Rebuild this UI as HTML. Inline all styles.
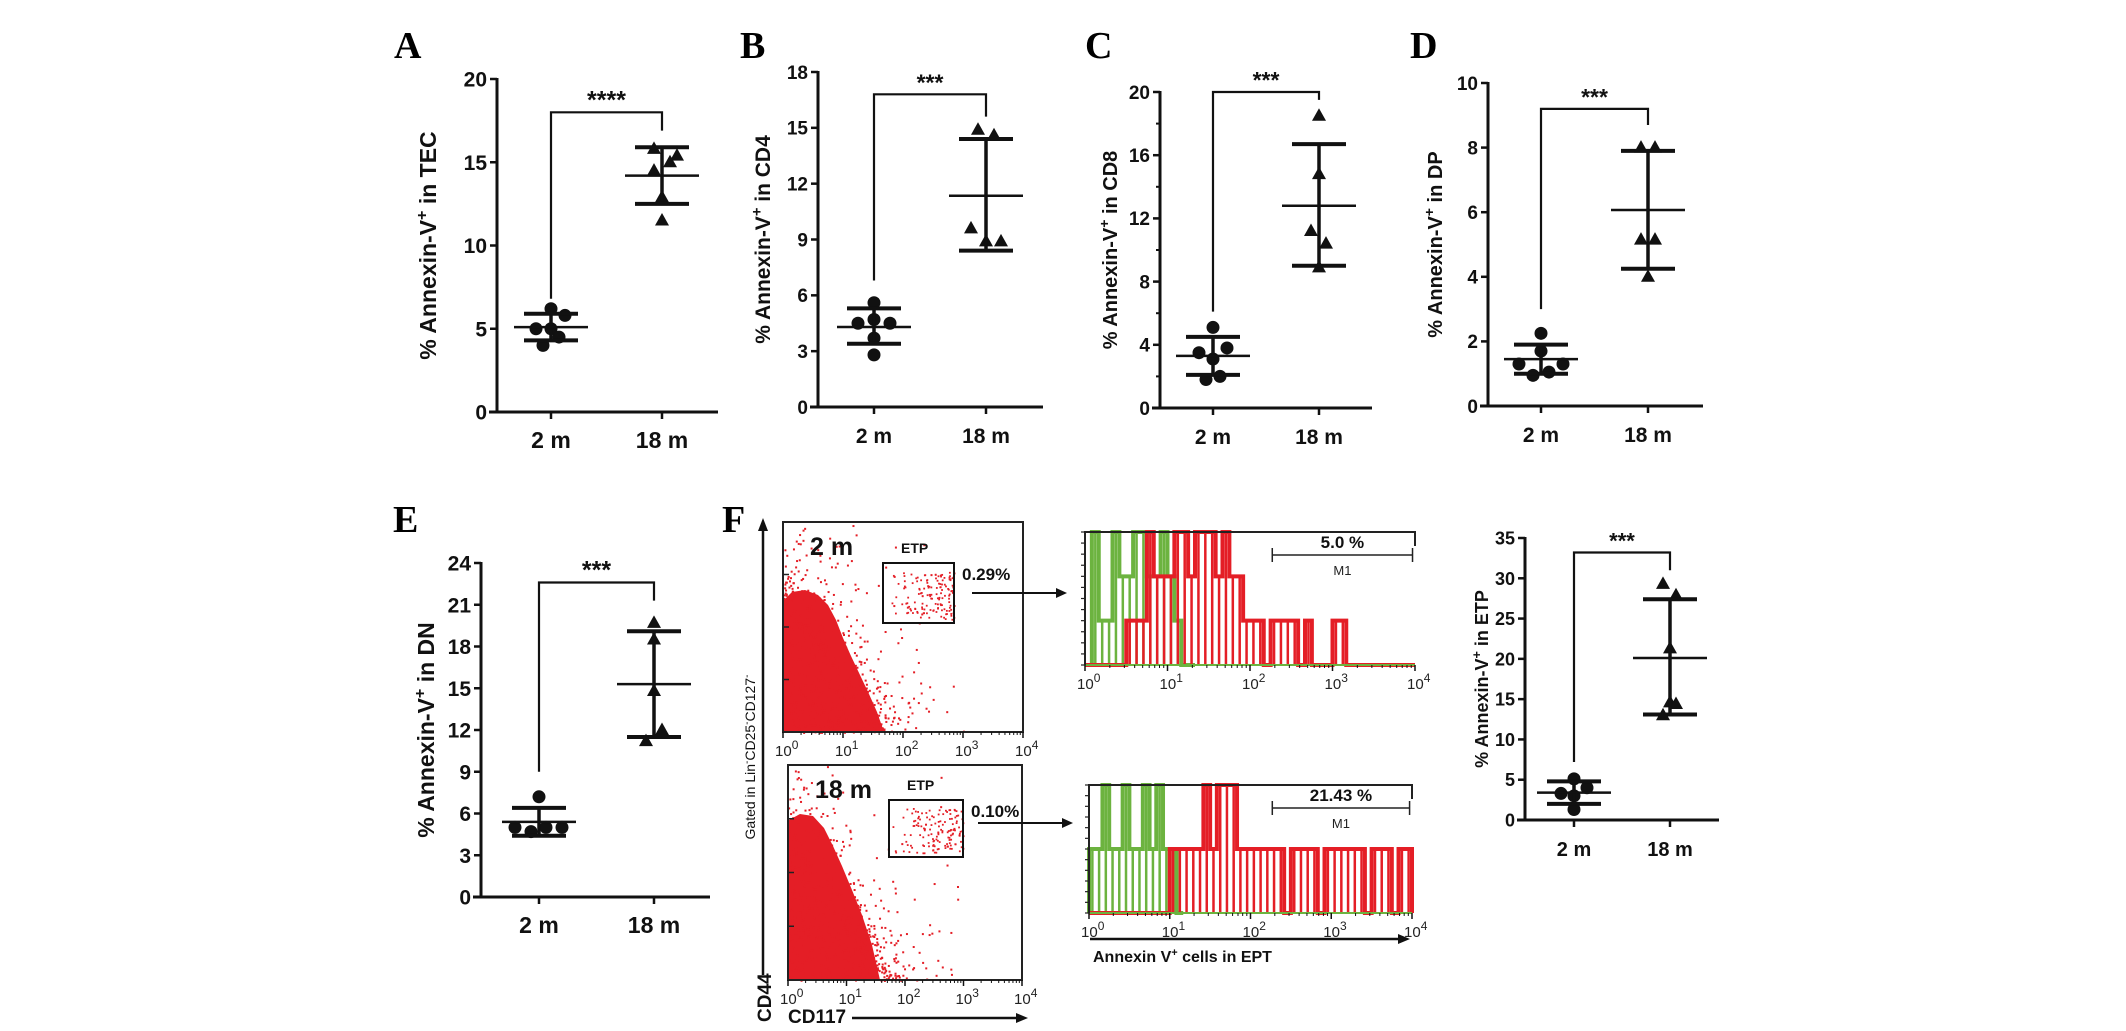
<!DOCTYPE html>
<html><head><meta charset="utf-8"><style>
html,body{margin:0;padding:0;background:#fff;}
svg{display:block;}
text{font-family:"Liberation Sans",Arial,sans-serif;}
.lbl{font-family:"Liberation Serif","Times New Roman",serif;font-weight:bold;font-size:38px;}
</style></head><body>
<svg id="fig" width="2126" height="1031" viewBox="0 0 2126 1031" xmlns="http://www.w3.org/2000/svg">
<rect width="2126" height="1031" fill="#fff"/>
</svg>
<script>
// ---------- dot-plot data ----------
const categories = ['2 m', '18 m'];
const A_2m = [6.2, 5.8, 5.0, 5.0, 4.5, 4.0];
const A_18m = [15.8, 15.4, 15.0, 14.5, 12.9, 11.5];
const A_stats = [[5.1, 4.3, 5.9], [14.2, 12.5, 15.9]];
const A_ticks = [0, 5, 10, 15, 20];
const A_sig = [18.0, 6.8, 16.9];
const B_2m = [5.6, 4.7, 4.5, 4.5, 3.7, 2.8];
const B_18m = [14.9, 14.6, 9.6, 8.9, 8.9];
const B_stats = [[4.3, 3.4, 5.3], [11.35, 8.4, 14.4]];
const B_ticks = [0, 3, 6, 9, 12, 15, 18];
const B_sig = [16.8, 6.8, 15.6];
const C_2m = [5.1, 3.8, 3.5, 3.1, 2.0, 1.8];
const C_18m = [18.5, 14.8, 11.2, 10.4, 8.9];
const C_stats = [[3.3, 2.1, 4.5], [12.8, 9.0, 16.7]];
const C_ticks = [0, 4, 8, 12, 16, 20];
const C_sig = [20.0, 6.1, 19.5];
const D_2m = [2.25, 1.7, 1.3, 1.3, 1.05, 0.95];
const D_18m = [8.0, 8.0, 5.15, 5.15, 4.0];
const D_stats = [[1.45, 1.0, 1.9], [6.07, 4.25, 7.9]];
const D_ticks = [0, 2, 4, 6, 8, 10];
const D_sig = [9.2, 3.0, 8.7];
const E_2m = [7.2, 5.0, 4.7, 5.0, 5.0];
const E_18m = [19.7, 18.5, 14.8, 12.0, 11.2];
const E_stats = [[5.4, 4.4, 6.4], [15.3, 11.5, 19.1]];
const E_ticks = [0, 3, 6, 9, 12, 15, 18, 21, 24];
const E_sig = [22.6, 9.0, 21.3];
const ETP_2m = [5.1, 4.0, 3.3, 3.0, 1.3];
const ETP_18m = [29.3, 27.9, 21.3, 14.6, 14.4, 13.0];
const ETP_stats = [[3.4, 2.0, 4.8], [20.1, 13.1, 27.4]];
const ETP_ticks = [0, 5, 10, 15, 20, 25, 30, 35];
const ETP_sig = [33.2, 7.2, 31.0];
// ---------- histogram data (counts per log bin, 12 bins/decade) ----------
const hist2m_green = [0,3,1,1,3,2,2,3,3,2,2,3,2,1,0,0];
const hist2m_red = [0,0,0,0,0,0,1,1,1,3,2,2,2,3,3,2,3,3,3,2,3,2,2,1,1,1,0,1,1,1,1,0,1,0,0,0,1,1,0,0,0,0,0,0,0,0,0,0];
const hist18m_green = [1,1,2,1,1,2,1,1,2,1,2,1,1,0];
const hist18m_red = [0,0,0,0,0,0,0,0,0,0,0,0,1,1,1,1,1,2,1,2,2,2,1,1,1,1,1,1,1,0,1,1,1,1,0,1,1,1,1,1,1,0,1,1,1,0,1,1];
const gatePct = ['0.29%', '0.10%'];
const m1Pct = ['5.0 %', '21.43 %'];

const NS = 'http://www.w3.org/2000/svg';
const svg = document.getElementById('fig');
function mk(parent, tag, attrs, name, txt) {
  const e = document.createElementNS(NS, tag);
  for (const k in attrs) e.setAttribute(k, attrs[k]);
  
  
  if (txt !== undefined) e.textContent = txt;
  parent.appendChild(e);
  return e;
}

function dotPanel(p) {
  const g = mk(svg, 'g', {}, 'panel-' + p.id);
  const yS = v => p.y0 - (v / p.max) * (p.y0 - p.yTop);
  const xS = i => p.cx[i];
  if (p.letter) mk(g, 'text', {x: p.lx, y: p.ly, class: 'lbl'}, 'panel-label', p.letter);
  mk(g, 'line', {x1: p.x0, y1: p.yTop - 1, x2: p.x0, y2: p.y0 + 1.5, stroke: '#111', 'stroke-width': 3}, 'y-axis');
  mk(g, 'line', {x1: p.x0 - 8, y1: p.y0, x2: p.xEnd, y2: p.y0, stroke: '#111', 'stroke-width': 3}, 'x-axis');
  p.ticks.forEach(t => {
    mk(g, 'line', {x1: p.x0 - 7, y1: yS(t), x2: p.x0, y2: yS(t), stroke: '#111', 'stroke-width': 2.5}, 'y-tick');
    mk(g, 'text', {x: p.x0 - 10, y: yS(t) + p.fs * 0.36, 'text-anchor': 'end', 'font-size': p.fs, 'font-weight': 'bold', fill: '#111'}, 'y-tick-label', String(t));
  });
  if (p.minor) for (let i = 0; i < p.ticks.length - 1; i++) {
    const m = (p.ticks[i] + p.ticks[i + 1]) / 2;
    mk(g, 'line', {x1: p.x0 - 4, y1: yS(m), x2: p.x0, y2: yS(m), stroke: '#111', 'stroke-width': 2}, 'y-minor-tick');
  }
  categories.forEach((c, i) => {
    mk(g, 'line', {x1: xS(i), y1: p.y0, x2: xS(i), y2: p.y0 + 7, stroke: '#111', 'stroke-width': 2.5}, 'x-tick');
    mk(g, 'text', {x: xS(i), y: p.y0 + 36, 'text-anchor': 'middle', 'font-size': p.fs + 2, 'font-weight': 'bold', fill: '#111'}, 'x-tick-label', c);
  });
  const tcy = (p.yTop + p.y0) / 2;
  const tt = mk(g, 'text', {x: p.tx, y: tcy, transform: `rotate(-90 ${p.tx} ${tcy})`, 'text-anchor': 'middle', 'font-size': p.tfs, 'font-weight': 'bold', fill: '#111'}, 'y-axis-title');
  tt.textContent = '% Annexin-V';
  mk(tt, 'tspan', {dy: -p.tfs * 0.4, 'font-size': p.tfs * 0.7}, 'superscript', '+');
  mk(tt, 'tspan', {dy: p.tfs * 0.4}, 'title-rest', ' in ' + p.cell);
  const sy = yS(p.sig[0]);
  mk(g, 'path', {d: `M${xS(0)},${yS(p.sig[1])} V${sy} H${xS(1)} V${yS(p.sig[2])}`, fill: 'none', stroke: '#111', 'stroke-width': 2.2}, 'significance-bracket');
  mk(g, 'text', {x: (xS(0) + xS(1)) / 2, y: sy - 4, 'text-anchor': 'middle', 'font-size': p.fs + 4, 'font-weight': 'bold', fill: '#111'}, 'significance-stars', p.stars);
  [p.d2, p.d18].forEach((arr, gi) => {
    arr.forEach((v, k) => {
      const x = xS(gi) + p.off[gi][k], y = yS(v);
      if (gi === 0) mk(g, 'circle', {cx: x, cy: y, r: 6.5, fill: '#111'}, 'point-2m');
      else mk(g, 'path', {d: `M${x},${y - 7.5} L${x + 7},${y + 5} L${x - 7},${y + 5} Z`, fill: '#111'}, 'point-18m');
    });
  });
  p.stats.forEach((s, i) => {
    const x = xS(i);
    mk(g, 'line', {x1: x, y1: yS(s[1]), x2: x, y2: yS(s[2]), stroke: '#111', 'stroke-width': 3.5}, 'sd-bar');
    mk(g, 'line', {x1: x - 27, y1: yS(s[1]), x2: x + 27, y2: yS(s[1]), stroke: '#111', 'stroke-width': 4}, 'sd-cap-low');
    mk(g, 'line', {x1: x - 27, y1: yS(s[2]), x2: x + 27, y2: yS(s[2]), stroke: '#111', 'stroke-width': 4}, 'sd-cap-high');
    mk(g, 'line', {x1: x - 37, y1: yS(s[0]), x2: x + 37, y2: yS(s[0]), stroke: '#111', 'stroke-width': 2.5}, 'mean-line');
  });
}
const O6 = [[0, 14, -15, 0, 8, -8], [-8, 15, 8, -8, 0, 0]];
dotPanel({id: 'a', letter: 'A', lx: 394, ly: 58, x0: 497, yTop: 79, y0: 412, max: 20, ticks: A_ticks, cx: [551, 662], xEnd: 718, tx: 436, tfs: 23, fs: 21, cell: 'TEC', sig: A_sig, stars: '****', d2: A_2m, d18: A_18m, stats: A_stats, off: O6});
dotPanel({id: 'b', letter: 'B', lx: 740, ly: 58, x0: 818, yTop: 72, y0: 407, max: 18, ticks: B_ticks, cx: [874, 986], xEnd: 1043, tx: 770, tfs: 21, fs: 19, cell: 'CD4', sig: B_sig, stars: '***', d2: B_2m, d18: B_18m, stats: B_stats, off: [[0, 0, -16, 16, 0, 0], [-8, 8, -15, 0, 15]]});
dotPanel({id: 'c', letter: 'C', lx: 1085, ly: 58, x0: 1160, yTop: 92, y0: 408, max: 20, ticks: C_ticks, minor: true, cx: [1213, 1319], xEnd: 1372, tx: 1117, tfs: 20, fs: 19, cell: 'CD8', sig: C_sig, stars: '***', d2: C_2m, d18: C_18m, stats: C_stats, off: [[0, 14, -14, 0, 7, -7], [0, 0, -8, 7, 0]]});
dotPanel({id: 'd', letter: 'D', lx: 1410, ly: 58, x0: 1488, yTop: 83, y0: 406, max: 10, ticks: D_ticks, cx: [1541, 1648], xEnd: 1703, tx: 1442, tfs: 20, fs: 19, cell: 'DP', sig: D_sig, stars: '***', d2: D_2m, d18: D_18m, stats: D_stats, off: [[0, 0, -22, 22, 8, -8], [-7, 7, -7, 7, 0]]});
dotPanel({id: 'e', letter: 'E', lx: 393, ly: 532, x0: 481, yTop: 563, y0: 897, max: 24, ticks: E_ticks, cx: [539, 654], xEnd: 710, tx: 434, tfs: 23, fs: 21, cell: 'DN', sig: E_sig, stars: '***', d2: E_2m, d18: E_18m, stats: E_stats, off: [[0, -24, -8, 7, 23], [0, 0, 0, 8, -8]]});
dotPanel({id: 'etp', letter: '', x0: 1525, yTop: 538, y0: 820, max: 35, ticks: ETP_ticks, cx: [1574, 1670], xEnd: 1719, tx: 1488, tfs: 18, fs: 18, cell: 'ETP', sig: ETP_sig, stars: '***', d2: ETP_2m, d18: ETP_18m, stats: ETP_stats, off: [[0, 13, -13, 0, 0], [-7, 6, 0, 0, 6, -7]]});

// ---------- Panel F: flow cytometry ----------
const gF = mk(svg, 'g', {}, 'panel-f');
mk(gF, 'text', {x: 722, y: 532, class: 'lbl'}, 'panel-label', 'F');
function logTicks(g, x0, x1, yb) {
  const dec = (x1 - x0) / 4;
  for (let d = 0; d <= 4; d++) {
    const x = x0 + d * dec;
    mk(g, 'line', {x1: x, y1: yb, x2: x, y2: yb + 6, stroke: '#111', 'stroke-width': 1.5}, 'x-major-tick');
    const t = mk(g, 'text', {x: x - 8, y: yb + 24, 'font-size': 15, fill: '#222'}, 'x-tick-label', '10');
    mk(t, 'tspan', {dy: -7, 'font-size': 12}, 'exponent', String(d));
    if (d < 4) for (let m = 2; m < 10; m++) {
      const xm = x + Math.log10(m) * dec;
      mk(g, 'line', {x1: xm, y1: yb, x2: xm, y2: yb + 3, stroke: '#111', 'stroke-width': 1}, 'x-minor-tick');
    }
  }
}
let seed = 7;
function rnd() { seed = (seed * 16807) % 2147483647; return (seed - 1) / 2147483646; }
function scatter(name, box, dense, gate, label, pct, arrow) {
  const g = mk(gF, 'g', {}, name);
  mk(g, 'polygon', {points: dense.map(p => p.join(',')).join(' '), fill: '#e41e26'}, 'dense-events');
  const W = box.r - box.l, H = box.b - box.t;
  for (let i = 0; i < 6000; i++) {
    const x = box.l + rnd() * W * 0.75;
    const y = box.t + rnd() * H;
    const f = (x - box.l) / W + (box.b - y) / H * 0.62;
    const pr = f < 0.42 ? 0.9 : Math.exp(-(f - 0.42) * 11);
    if (rnd() < pr * 0.55 || rnd() < 0.004)
      mk(g, 'rect', {x: x, y: y, width: 2, height: 2, fill: '#e41e26'}, 'event-dot');
  }
  for (let i = 0; i < 140; i++) {
    const x = gate.x + Math.pow(rnd(), 0.6) * gate.w, y = gate.y + 8 + rnd() * (gate.h - 12);
    mk(g, 'rect', {x: x, y: y, width: 1.8, height: 1.8, fill: '#e41e26'}, 'gate-event');
  }
  mk(g, 'rect', {x: box.l, y: box.t, width: W, height: H, fill: 'none', stroke: '#222', 'stroke-width': 2}, 'plot-frame');
  for (let k = 1; k < 4; k++) {
    const y = box.b - k * H / 4;
    mk(g, 'line', {x1: box.l, y1: y, x2: box.l + 6, y2: y, stroke: '#222', 'stroke-width': 1.5}, 'y-tick');
  }
  logTicks(g, box.l, box.r, box.b);
  mk(g, 'rect', {x: gate.x, y: gate.y, width: gate.w, height: gate.h, fill: 'none', stroke: '#111', 'stroke-width': 2}, 'etp-gate');
  mk(g, 'text', {x: gate.x + 18, y: gate.y - 10, 'font-size': 14, 'font-weight': 'bold', fill: '#111'}, 'gate-name', 'ETP');
  mk(g, 'text', {x: box.l + 27, y: box.t + 33, 'font-size': 25, 'font-weight': 'bold', fill: '#111'}, 'age-label', label);
  mk(g, 'text', {x: gate.x + gate.w + 8, y: gate.y + 17, 'font-size': 17, 'font-weight': 'bold', fill: '#111'}, 'gate-percent', pct);
  mk(g, 'line', {x1: arrow[0], y1: arrow[2], x2: arrow[1] - 8, y2: arrow[2], stroke: '#111', 'stroke-width': 2}, 'gate-arrow');
  mk(g, 'path', {d: `M${arrow[1]},${arrow[2]} l-11,-5 v10 z`, fill: '#111'}, 'gate-arrowhead');
}
scatter('scatter-2m', {l: 783, r: 1023, t: 522, b: 732},
  [[784,600],[792,592],[805,590],[818,595],[828,605],[836,620],[843,638],[851,656],[860,675],[869,694],[877,712],[884,732],[784,732]],
  {x: 883, y: 563, w: 71, h: 60}, '2 m', gatePct[0], [972, 1067, 593]);
scatter('scatter-18m', {l: 788, r: 1022, t: 765, b: 980},
  [[789,820],[800,814],[813,816],[824,828],[833,846],[842,866],[852,890],[862,915],[872,945],[880,980],[789,980]],
  {x: 889, y: 800, w: 74, h: 57}, '18 m', gatePct[1], [978, 1073, 823]);
mk(gF, 'line', {x1: 763, y1: 975, x2: 763, y2: 530, stroke: '#111', 'stroke-width': 2.5}, 'cd44-axis-arrow');
mk(gF, 'path', {d: 'M763,518 l-5,13 h10 z', fill: '#111'}, 'cd44-arrowhead');
mk(gF, 'text', {x: 771, y: 1022, transform: 'rotate(-90 771 1022)', 'font-size': 19, 'font-weight': 'bold', fill: '#111'}, 'cd44-label', 'CD44');
const gl = mk(gF, 'text', {x: 755, y: 757, transform: 'rotate(-90 755 757)', 'text-anchor': 'middle', 'font-size': 14, fill: '#111'}, 'gating-label', 'Gated in Lin');
mk(gl, 'tspan', {dy: -5, 'font-size': 10}, 'superscript', '-');
mk(gl, 'tspan', {dy: 5}, 'gating-label-rest', 'CD25');
mk(gl, 'tspan', {dy: -5, 'font-size': 10}, 'superscript', '-');
mk(gl, 'tspan', {dy: 5}, 'gating-label-rest', 'CD127');
mk(gl, 'tspan', {dy: -5, 'font-size': 10}, 'superscript', '-');
mk(gF, 'text', {x: 788, y: 1023, 'font-size': 19, 'font-weight': 'bold', fill: '#111'}, 'cd117-label', 'CD117');
mk(gF, 'line', {x1: 852, y1: 1018, x2: 1018, y2: 1018, stroke: '#111', 'stroke-width': 2.5}, 'cd117-axis-arrow');
mk(gF, 'path', {d: 'M1028,1018 l-12,-5 v10 z', fill: '#111'}, 'cd117-arrowhead');

function histogram(name, box, levels, green, red, pct) {
  const g = mk(gF, 'g', {}, name);
  const dec = (box.r - box.l) / 4, bw = dec / 12;
  const yS = v => box.b - v / levels * (box.b - box.t);
  [[green, '#6cb33f'], [red, '#e41e26']].forEach(([arr, col], ci) => {
    let d = `M${box.l},${box.b}`;
    arr.forEach((v, i) => { d += ` L${box.l + i * bw},${yS(v)} L${box.l + (i + 1) * bw},${yS(v)}`; });
    d += ` L${box.l + arr.length * bw},${box.b}`;
    mk(g, 'path', {d: d, fill: 'none', stroke: col, 'stroke-width': 4}, ci ? 'histogram-annexin' : 'histogram-control');
    arr.forEach((v, i) => { if (v > 0) mk(g, 'line', {x1: box.l + (i + 0.5) * bw, y1: yS(v), x2: box.l + (i + 0.5) * bw, y2: box.b, stroke: col, 'stroke-width': 2.5}, 'histogram-bin'); });
  });
  mk(g, 'line', {x1: box.l, y1: box.b, x2: box.r, y2: box.b, stroke: '#6cb33f', 'stroke-width': 2}, 'baseline');
  mk(g, 'path', {d: `M${box.l},${box.b} V${box.t} H${box.r} V${box.t + 14}`, fill: 'none', stroke: '#222', 'stroke-width': 2}, 'plot-frame');
  for (let k = 0; k <= 12; k++) {
    const y = box.b - k * (box.b - box.t) / 12;
    mk(g, 'line', {x1: box.l - 4, y1: y, x2: box.l, y2: y, stroke: '#222', 'stroke-width': 1.2}, 'y-tick');
  }
  logTicks(g, box.l, box.r, box.b);
  const mx = box.l + dec * 2.27, me = box.l + dec * 3.97;
  mk(g, 'path', {d: `M${mx},${box.t + 16} v14 M${mx},${box.t + 23} H${me} M${me},${box.t + 16} v14`, fill: 'none', stroke: '#222', 'stroke-width': 1.5}, 'm1-marker');
  mk(g, 'text', {x: (mx + me) / 2, y: box.t + 43, 'text-anchor': 'middle', 'font-size': 13, fill: '#222'}, 'm1-label', 'M1');
  mk(g, 'text', {x: (mx + me) / 2, y: box.t + 16, 'text-anchor': 'middle', 'font-size': 17, 'font-weight': 'bold', fill: '#111'}, 'm1-percent', pct);
}
histogram('histogram-2m', {l: 1085, r: 1415, t: 532, b: 665}, 3, hist2m_green, hist2m_red, m1Pct[0]);
histogram('histogram-18m', {l: 1089, r: 1412, t: 785, b: 913}, 2, hist18m_green, hist18m_red, m1Pct[1]);
mk(gF, 'line', {x1: 1090, y1: 939, x2: 1400, y2: 939, stroke: '#111', 'stroke-width': 2.5}, 'annexin-axis-arrow');
mk(gF, 'path', {d: 'M1410,939 l-12,-5 v10 z', fill: '#111'}, 'annexin-arrowhead');
const an = mk(gF, 'text', {x: 1093, y: 962, 'font-size': 16, 'font-weight': 'bold', fill: '#111'}, 'annexin-axis-label', 'Annexin V');
mk(an, 'tspan', {dy: -6, 'font-size': 11}, 'superscript', '+');
mk(an, 'tspan', {dy: 6}, 'annexin-axis-rest', ' cells in EPT');
</script>
</body></html>
